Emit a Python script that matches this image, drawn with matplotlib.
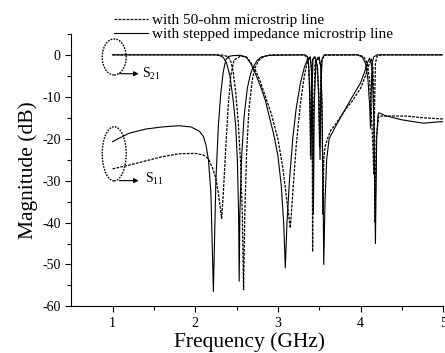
import matplotlib
matplotlib.use("Agg")
import matplotlib.pyplot as plt
from matplotlib.patches import Ellipse

plt.rcParams['font.family'] = ['Liberation Serif', 'DejaVu Serif']
plt.rcParams['mathtext.fontset'] = 'custom'
plt.rcParams['mathtext.rm'] = 'Liberation Serif'
plt.rcParams['mathtext.it'] = 'Liberation Serif'
plt.rcParams['axes.unicode_minus'] = False

# S21 / S11 in dB, filter with plain 50-ohm line (dashed)
f_50_s21 = [1.0, 2.30, 2.36, 2.40, 2.43, 2.46, 2.49, 2.52, 2.55, 2.57, 2.585, 2.60, 2.62,
            2.65, 2.69, 2.72, 2.77, 2.83, 2.92, 3.30, 3.35, 3.37, 3.385, 3.395, 3.405, 3.42,
            3.44, 3.47, 3.49, 3.505, 3.515, 3.53, 3.56, 3.98, 4.04, 4.08, 4.11, 4.13, 4.15,
            4.16, 4.17, 4.18, 4.20, 4.25, 5.0]
db_50_s21 = [0.0, 0.0, -0.2, -0.5, -1.5, -4, -9, -16, -26, -38, -56, -38, -24,
             -13, -6, -3.2, -1.3, -0.4, 0.0, 0.0, -0.4, -2, -8, -24, -8, -1,
             -0.5, -2, -8, -22, -8, -1.5, -0.1, 0.0, -0.5, -2, -6, -14, -22,
             -28.6, -12, -2, -0.3, 0.0, 0.0]
f_50_s11 = [1.0, 1.2, 1.4, 1.6, 1.8, 2.0, 2.1, 2.16, 2.21, 2.25, 2.28, 2.30, 2.32, 2.34,
            2.37, 2.40, 2.43, 2.47, 2.55, 2.62, 2.66, 2.72, 2.78, 2.85, 2.92, 3.0,
            3.06, 3.11, 3.15, 3.18, 3.22, 3.27, 3.32, 3.36, 3.39, 3.405, 3.415, 3.42,
            3.43, 3.45, 3.49, 3.52, 3.535, 3.545, 3.555, 3.57, 3.60, 3.64, 3.70, 3.80,
            3.90, 4.0, 4.06, 4.10, 4.13, 4.15, 4.165, 4.175, 4.19, 4.22, 4.35, 4.56,
            4.75, 5.0]
db_50_s11 = [-27.2, -26.3, -25.3, -24.3, -23.6, -23.5, -23.9, -24.8, -27, -29.5, -33, -36, -39, -33,
             -22, -12, -5, -1.2, -0.3, -0.5, -1.5, -3.3, -6, -10, -14, -20,
             -27, -35, -41.3, -33, -22, -12, -5, -1.5, -0.5, -3, -15, -47,
             -15, -2, -0.5, -3, -12, -38, -25, -22, -20, -18, -16.5, -13.5,
             -11, -8, -5, -2.5, -1, -3, -15, -40, -20, -14.6, -14.6, -14.6,
             -15, -15.3]

# same for the stepped impedance line (solid)
f_si_s21 = [1.0, 2.25, 2.30, 2.34, 2.38, 2.42, 2.46, 2.49, 2.51, 2.525, 2.532, 2.54, 2.56,
            2.59, 2.63, 2.67, 2.70, 2.75, 2.80, 2.90, 3.33, 3.36, 3.375, 3.39, 3.40,
            3.41, 3.425, 3.45, 3.48, 3.495, 3.51, 3.52, 3.535, 3.56, 3.96, 4.02, 4.06,
            4.09, 4.11, 4.12, 4.13, 4.14, 4.16, 4.20, 5.0]
db_si_s21 = [0.0, 0.0, -0.2, -0.6, -2, -5, -11, -17, -25, -38, -54, -38, -25,
             -15, -8, -4.5, -3, -1.3, -0.5, -0.1, 0.0, -0.5, -3, -14, -25,
             -10, -1, -0.5, -3, -10, -25, -8, -1, 0.0, 0.0, -0.5, -2,
             -6, -12, -17.5, -8, -2, -0.5, 0.0, 0.0]
f_si_s11 = [1.0, 1.2, 1.4, 1.6, 1.8, 1.95, 2.05, 2.10, 2.13, 2.16, 2.19, 2.22, 2.25,
            2.28, 2.31, 2.34, 2.37, 2.40, 2.45, 2.55, 2.62, 2.67, 2.70, 2.75, 2.80,
            2.85, 2.90, 2.95, 3.0, 3.04, 3.07, 3.09, 3.11, 3.14, 3.18, 3.22, 3.27,
            3.32, 3.36, 3.39, 3.41, 3.42, 3.43, 3.44, 3.46, 3.50, 3.52, 3.535, 3.545,
            3.555, 3.57, 3.59, 3.62, 3.70, 3.80, 3.90, 4.0, 4.05, 4.08, 4.11, 4.14,
            4.16, 4.18, 4.195, 4.21, 4.22, 4.30, 4.50, 4.76, 5.0]
db_si_s11 = [-20.7, -18.7, -17.7, -17.2, -16.9, -17.2, -18.2, -19.5, -21.5, -25, -33, -56.5, -30,
             -17, -9, -4, -1.2, -0.4, -0.2, -0.1, -0.6, -2, -3.2, -5.5, -8,
             -11, -15, -19, -24, -31, -40, -50.8, -40, -30, -20, -13, -7,
             -3, -1, -0.5, -4, -15, -38, -12, -1.5, -0.5, -3, -15, -30,
             -50, -35, -25, -20, -17, -13.5, -10, -6.7, -4, -2, -0.8, -3,
             -15, -45, -20, -14.5, -13.8, -14.5, -15.5, -16.3, -15.9]

fig = plt.figure(figsize=(4.45, 3.53), dpi=100)
ax = fig.add_axes([0.160, 0.132, 0.836, 0.772])

dash = (0, (2.2, 1.0))
l50, = ax.plot(f_50_s21, db_50_s21, color='black', lw=0.9, linestyle=dash,
               label='with 50-ohm microstrip line')
ax.plot(f_50_s11, db_50_s11, color='black', lw=0.9, linestyle=dash)
lsi, = ax.plot(f_si_s21, db_si_s21, color='black', lw=0.8,
               label='with stepped impedance microstrip line')
ax.plot(f_si_s11, db_si_s11, color='black', lw=0.8)

# dotted ellipses marking the S21 and S11 traces at 1 GHz
ax.add_patch(Ellipse((1.02, -0.5), 0.29, 8.6, fill=False, lw=1.0,
                     linestyle=(0, (1.2, 0.9)), color='black'))
ax.add_patch(Ellipse((1.02, -23.6), 0.29, 12.9, fill=False, lw=1.0,
                     linestyle=(0, (1.2, 0.9)), color='black'))
ax.annotate('', xy=(1.35, -4.5), xytext=(1.05, -4.5),
            arrowprops=dict(arrowstyle='-|>', lw=0.8, color='black', mutation_scale=7))
ax.annotate('', xy=(1.35, -30.0), xytext=(1.05, -30.0),
            arrowprops=dict(arrowstyle='-|>', lw=0.8, color='black', mutation_scale=7))
ax.text(1.36, -4.5, r'S$_{21}$', fontsize=10, va='center', ha='left')
ax.text(1.39, -29.5, r'S$_{11}$', fontsize=10, va='center', ha='left')

ax.set_xlim(0.5, 5.0)
ax.set_ylim(-60, 5)
ax.set_xticks([1, 2, 3, 4, 5])
ax.set_xticks([1.5, 2.5, 3.5, 4.5], minor=True)
ax.set_yticks(range(-60, 1, 10))
ax.set_yticks(range(-55, 6, 10), minor=True)
ax.tick_params(which='both', direction='out', labelsize=10, width=0.8)
ax.tick_params(which='major', length=4)
ax.tick_params(which='minor', length=3)
for s in ('top', 'right'):
    ax.spines[s].set_visible(False)
ax.spines['left'].set_linewidth(0.8)
ax.spines['bottom'].set_linewidth(0.8)

ax.set_xlabel('Frequency (GHz)', fontsize=15.5, labelpad=2)
ax.xaxis.label.set_x(0.479)
ax.set_ylabel('Magnitude (dB)', fontsize=15.5, labelpad=3)

ax.legend(handles=[l50, lsi], loc='upper left', bbox_to_anchor=(0.232, 0.992),
          bbox_transform=fig.transFigure, frameon=False, fontsize=11,
          handlelength=2.2, handletextpad=0.3, labelspacing=0.0, borderpad=0.2)

fig.savefig('out.png', dpi=100)
